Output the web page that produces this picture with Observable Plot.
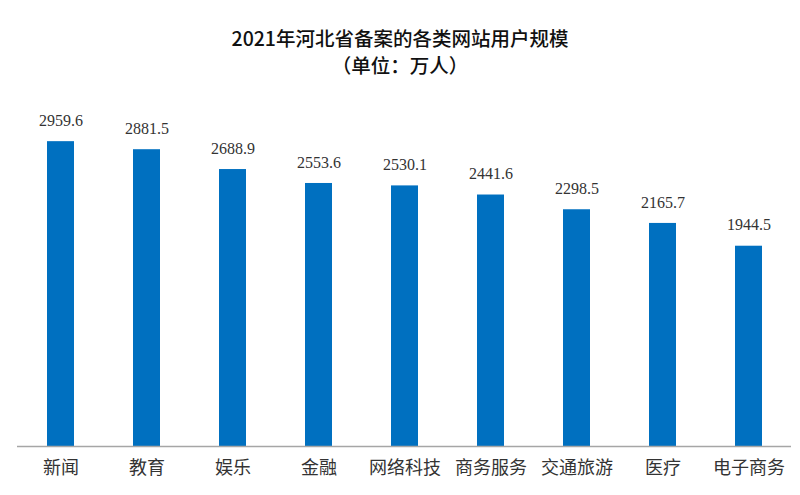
<!DOCTYPE html>
<html><head><meta charset="utf-8">
<script src="https://cdn.jsdelivr.net/npm/d3@7"></script>
<script src="https://cdn.jsdelivr.net/npm/@observablehq/plot@0.6"></script>
<style>
body{margin:0;background:#fff;}
#wrap{width:800px;}
.t{text-align:center;font-family:"Noto Sans CJK SC",sans-serif;color:#111;font-size:19.5px;line-height:27px;font-weight:500;}
</style></head><body>
<div id="wrap">
<div style="height:24px"></div>
<div class="t" id="title">2021年河北省备案的各类网站用户规模</div>
<div class="t" id="sub">（单位：万人）</div>
<div style="height:2px"></div>
<div id="chart"></div>
</div>
<script>
const categories = ["新闻","教育","娱乐","金融","网络科技","商务服务","交通旅游","医疗","电子商务"];
const values = [2959.6,2881.5,2688.9,2553.6,2530.1,2441.6,2298.5,2165.7,1944.5];
const data = categories.map((c,i)=>({category:c,value:values[i]}));
const chart = Plot.plot({
  width:800, height:415,
  marginTop:57, marginBottom:49, marginLeft:17, marginRight:9,
  x:{domain:categories, paddingInner:0.69, paddingOuter:0.345, label:null},
  y:{domain:[0,3000], axis:null},
  style:{background:"#fff"},
  marks:[
    Plot.barY(data,{x:"category",y:"value",fill:"#0070C0"}),
    Plot.ruleY([0],{stroke:"#A6A6A6",strokeWidth:1.5}),
    Plot.text(data,{x:"category",y:"value",text:d=>d.value.toFixed(1),dy:-21,fontSize:16,fill:"#333",fontFamily:"Liberation Serif",letterSpacing:"0.8px"}),
    Plot.axisX({tickSize:0,tickPadding:15,fontSize:18,fill:"#333",fontFamily:"Noto Sans CJK SC",label:null})
  ]
});
document.getElementById("chart").appendChild(chart);
</script>
</body></html>
